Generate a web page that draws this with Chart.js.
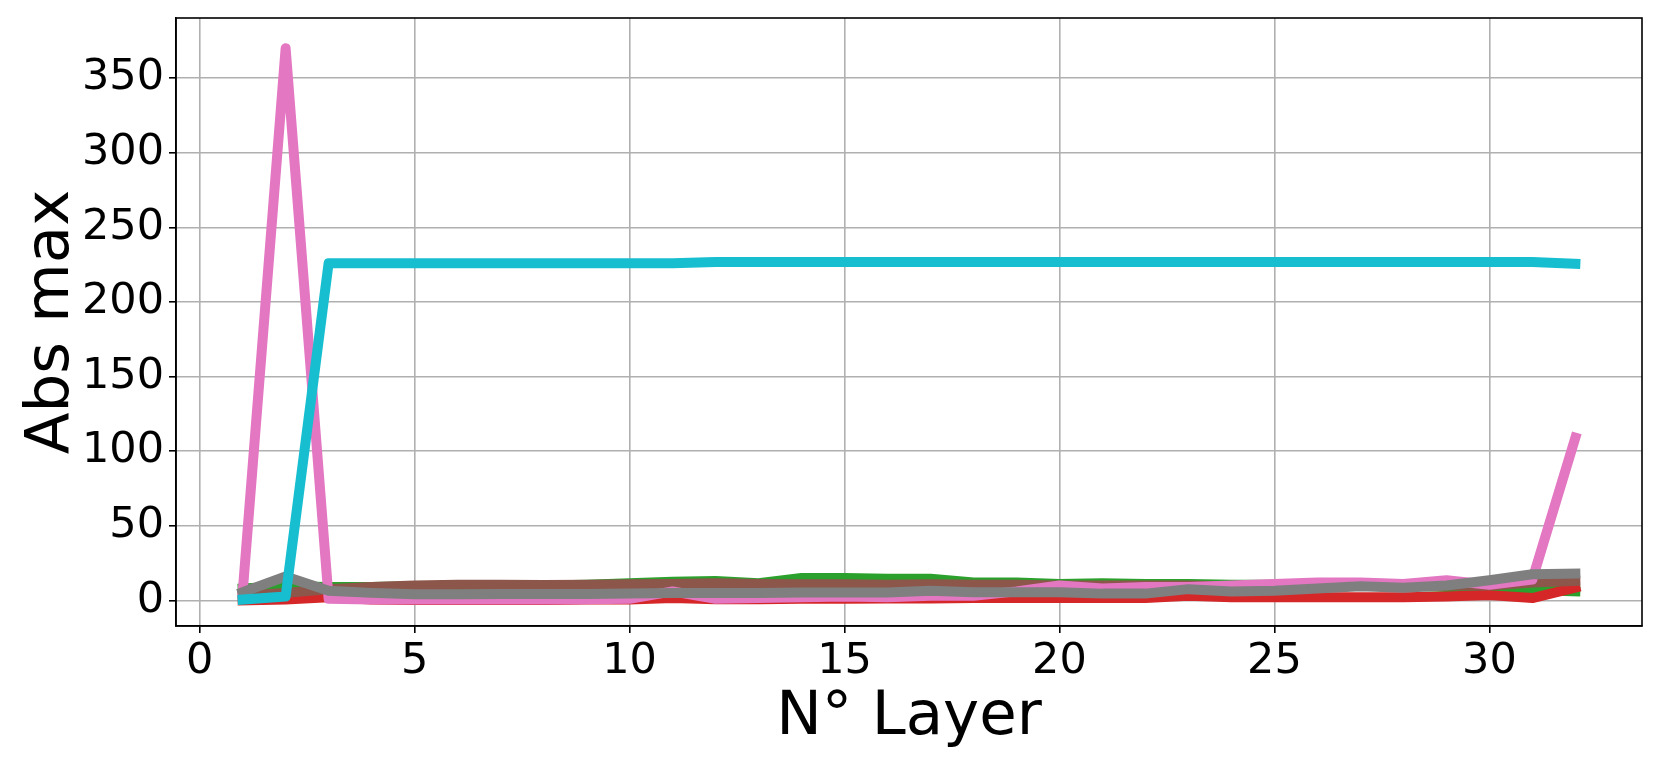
<!DOCTYPE html>
<html>
<head>
<meta charset="utf-8">
<title>Abs max per layer</title>
<script src="https://cdn.jsdelivr.net/npm/chart.js@4.4.1/dist/chart.umd.min.js"></script>
<style>
  html, body { margin: 0; padding: 0; background: #ffffff; }
  #wrap { width: 1661px; height: 767px; position: relative; }
</style>
</head>
<body>
<div id="wrap"><canvas id="chart"></canvas></div>
<script>
// layer index on the x axis
const layers = [1, 2, 3, 4, 5, 6, 7, 8, 9, 10, 11, 12, 13, 14, 15, 16,
  17, 18, 19, 20, 21, 22, 23, 24, 25, 26, 27, 28, 29, 30, 31, 32];

// abs max values per series
const greenVals = [8, 9.5, 9, 9, 9.5, 10, 10, 10, 10.5, 11.5, 12.5, 13, 11.5, 15, 15, 14.5,
  14.5, 12, 12, 11, 11.5, 11, 11, 10.5, 10.5, 10, 11, 10, 9, 7.5, 7, 6];
const redVals = [0, 0.5, 2, 0.5, 0.3, 0.3, 0.3, 0.3, 0.5, 0.5, 1.5, 0.8, 0.8, 1, 1, 1.2,
  1.2, 1.5, 1.5, 1.5, 1.5, 1.5, 3, 2, 2, 2, 2, 2, 2.5, 3.5, 1.5, 8.5];
const brownVals = [3, 5, 7.5, 9, 10, 10.5, 10.5, 10.3, 10.5, 10.8, 11, 11.5, 11, 10.8, 10.8, 10.5,
  10.8, 10.5, 10.5, 10, 10, 10, 10, 9.5, 9.5, 9, 10, 10, 10, 10, 12, 13];
const pinkVals = [5, 370, 1, 0.5, 0.5, 0.5, 0.5, 0.5, 0.8, 1, 6, 1, 1.5, 2, 2.5, 2,
  3, 3, 6, 10, 8, 9, 9, 10, 11, 12, 12, 11, 13.5, 10.5, 14, 109];
const grayVals = [5.5, 16, 6.5, 5, 4, 4, 4.2, 4.3, 4.3, 4.5, 5, 5, 5, 5.2, 5.3, 5.3,
  6.5, 5.5, 5.5, 5.5, 4.5, 4.5, 7.5, 6, 6.5, 8, 9.5, 8.5, 10, 13.5, 17.5, 18];
const cyanVals = [0.5, 2.5, 226, 226, 226, 226, 226, 226, 226, 226, 226, 226.8, 226.8, 226.8, 226.8, 226.8,
  226.8, 226.8, 226.8, 226.8, 226.8, 226.8, 226.8, 226.8, 226.8, 226.8, 226.8, 226.8, 226.8, 226.8, 226.8, 225.6];

// tick labels
const xTicks = [0, 5, 10, 15, 20, 25, 30];
const yTicks = [0, 50, 100, 150, 200, 250, 300, 350];

const series = [
  { name: "green", color: "#2ca02c", values: greenVals },
  { name: "red", color: "#d62728", values: redVals },
  { name: "brown", color: "#8c564b", values: brownVals },
  { name: "pink", color: "#e377c2", values: pinkVals },
  { name: "gray", color: "#7f7f7f", values: grayVals },
  { name: "cyan", color: "#17becf", values: cyanVals }
];

const font = "'DejaVu Sans', sans-serif";

// box around the plot area like matplotlib's spines
const frame = {
  id: "frame",
  afterDraw(chart) {
    const a = chart.chartArea;
    const c = chart.ctx;
    c.save();
    c.strokeStyle = "#000000";
    c.lineWidth = 1.6;
    c.strokeRect(a.left, a.top, a.right - a.left, a.bottom - a.top);
    c.restore();
  }
};

// fixed axis sizes, no extra padding from tick labels
function fixX(scale) {
  scale.height = 141;
  scale.paddingLeft = 0;
  scale.paddingRight = 0;
}
function fixY(scale) {
  scale.width = 176;
  scale.paddingTop = 0;
  scale.paddingBottom = 0;
}

const ctx = document.getElementById("chart").getContext("2d");

new Chart(ctx, {
  type: "line",
  data: {
    datasets: series.map((s, i) => ({
      label: s.name,
      data: layers.map((l, j) => ({ x: l, y: s.values[j] })),
      borderColor: s.color,
      backgroundColor: s.color,
      borderWidth: 10,
      borderJoinStyle: "round",
      borderCapStyle: "square",
      pointRadius: 0,
      tension: 0,
      fill: false,
      order: series.length - i
    }))
  },
  options: {
    responsive: true,
    maintainAspectRatio: false,
    animation: false,
    devicePixelRatio: 1,
    layout: { padding: { left: 0, top: 18, right: 19, bottom: 0 } },
    plugins: {
      legend: { display: false },
      tooltip: { enabled: false }
    },
    scales: {
      x: {
        type: "linear",
        min: -0.55,
        max: 33.55,
        afterBuildTicks: (scale) => { scale.ticks = xTicks.map(v => ({ value: v })); },
        afterFit: fixX,
        ticks: {
          color: "#000000",
          font: { family: font, size: 43 },
          padding: 3,
          maxRotation: 0
        },
        grid: { color: "#b0b0b0", lineWidth: 1.6, tickLength: 7, tickColor: "#000000", tickWidth: 1.6 },
        border: { color: "#000000", width: 1.6 },
        title: {
          display: true,
          text: "N° Layer",
          color: "#000000",
          font: { family: font, size: 61 },
          padding: { top: 0, bottom: 12 }
        }
      },
      y: {
        type: "linear",
        min: -17.2,
        max: 390.3,
        afterBuildTicks: (scale) => { scale.ticks = yTicks.map(v => ({ value: v })); },
        afterFit: fixY,
        ticks: {
          color: "#000000",
          font: { family: font, size: 43 },
          padding: 5
        },
        grid: { color: "#b0b0b0", lineWidth: 1.6, tickLength: 7, tickColor: "#000000", tickWidth: 1.6 },
        border: { color: "#000000", width: 1.6 },
        title: {
          display: true,
          text: "Abs max",
          color: "#000000",
          font: { family: font, size: 61 },
          padding: { top: 16, bottom: 0 }
        }
      }
    }
  },
  plugins: [frame]
});
</script>
</body>
</html>
